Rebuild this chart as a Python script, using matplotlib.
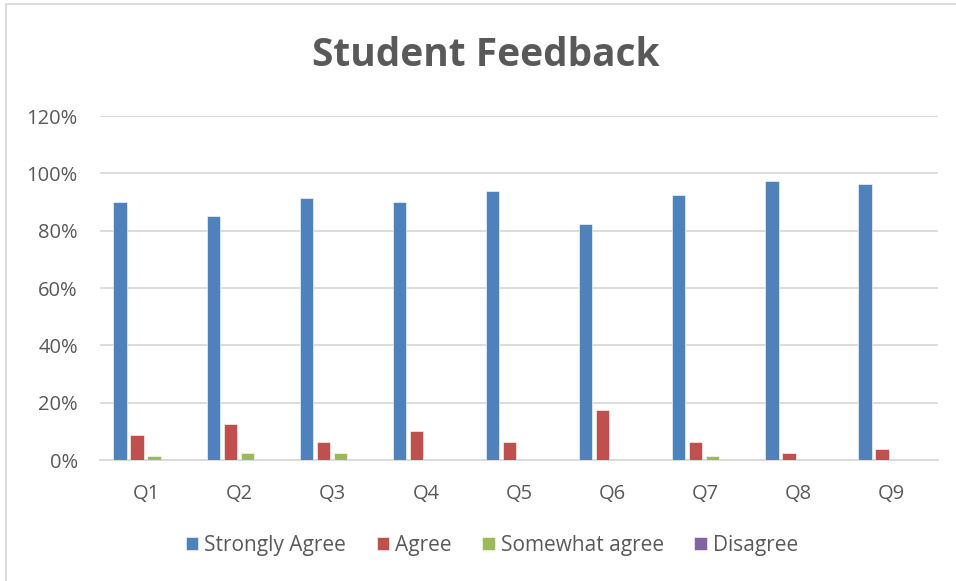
import matplotlib
matplotlib.use("Agg")
import matplotlib.pyplot as plt
from matplotlib.patches import Rectangle
import numpy as np

categories = ["Q1", "Q2", "Q3", "Q4", "Q5", "Q6", "Q7", "Q8", "Q9"]
series_names = ["Strongly Agree", "Agree", "Somewhat agree", "Disagree"]
strongly_agree = [0.90, 0.85, 0.9125, 0.90, 0.9375, 0.825, 0.925, 0.975, 0.9625]
agree = [0.0875, 0.125, 0.0625, 0.10, 0.0625, 0.175, 0.0625, 0.025, 0.0375]
somewhat_agree = [0.0125, 0.025, 0.025, 0.0, 0.0, 0.0, 0.0125, 0.0, 0.0]
disagree = [0.0, 0.0, 0.0, 0.0, 0.0, 0.0, 0.0, 0.0, 0.0]
colors = ["#4F81BD", "#C0504D", "#9BBB59", "#8064A2"]
yticks = [0, 0.2, 0.4, 0.6, 0.8, 1.0, 1.2]
ytick_labels = ["0%", "20%", "40%", "60%", "80%", "100%", "120%"]

plt.rcParams['font.family'] = ['Open Sans', 'DejaVu Sans']
text_color = "#595959"

fig = plt.figure(figsize=(9.56, 5.81), dpi=100)
W, H = 956, 581
ax = fig.add_axes([100 / W, 1 - 460 / H, 838 / W, 344 / H])

x = np.arange(len(categories))
step = 17 / 93.1
bw = 13.4 / 93.1
data = [strongly_agree, agree, somewhat_agree, disagree]
for i, (name, vals, c) in enumerate(zip(series_names, data, colors)):
    ax.bar(x + (i - 1.5) * step - 0.01, vals, width=bw, color=c, label=name,
           edgecolor="white", linewidth=0.4, zorder=3)

ax.set_xlim(-0.5, len(categories) - 0.5)
ax.set_ylim(0, 1.2)
ax.set_yticks(yticks)
ax.set_yticklabels(ytick_labels)
ax.set_xticks(x)
ax.set_xticklabels(categories)
ax.grid(axis="y", color="#D9D9D9", linewidth=1.3, zorder=0)
ax.tick_params(axis="both", length=0, labelsize=14.5, colors=text_color)
ax.tick_params(axis="y", pad=16)
ax.tick_params(axis="x", pad=17)
for s in ["top", "right", "left"]:
    ax.spines[s].set_visible(False)
ax.spines["bottom"].set_color("#D9D9D9")
ax.spines["bottom"].set_linewidth(1.3)

fig.text(486 / W, 1 - 55 / H, "Student Feedback", ha="center", va="center",
         fontsize=28, fontweight="bold", color=text_color)

leg = fig.legend(loc="center", bbox_to_anchor=(492 / W, 1 - 545 / H), ncol=4,
                 frameon=False, fontsize=15, handlelength=0.6, handleheight=0.6,
                 handletextpad=0.3, columnspacing=1.45)
for t in leg.get_texts():
    t.set_color(text_color)

fig.add_artist(Rectangle((6 / W, -0.1), 1.2, 1 + 0.1 - 4 / H, transform=fig.transFigure,
                         fill=False, edgecolor="#D9D9D9", linewidth=1.3))

fig.savefig("out.png", dpi=100)
